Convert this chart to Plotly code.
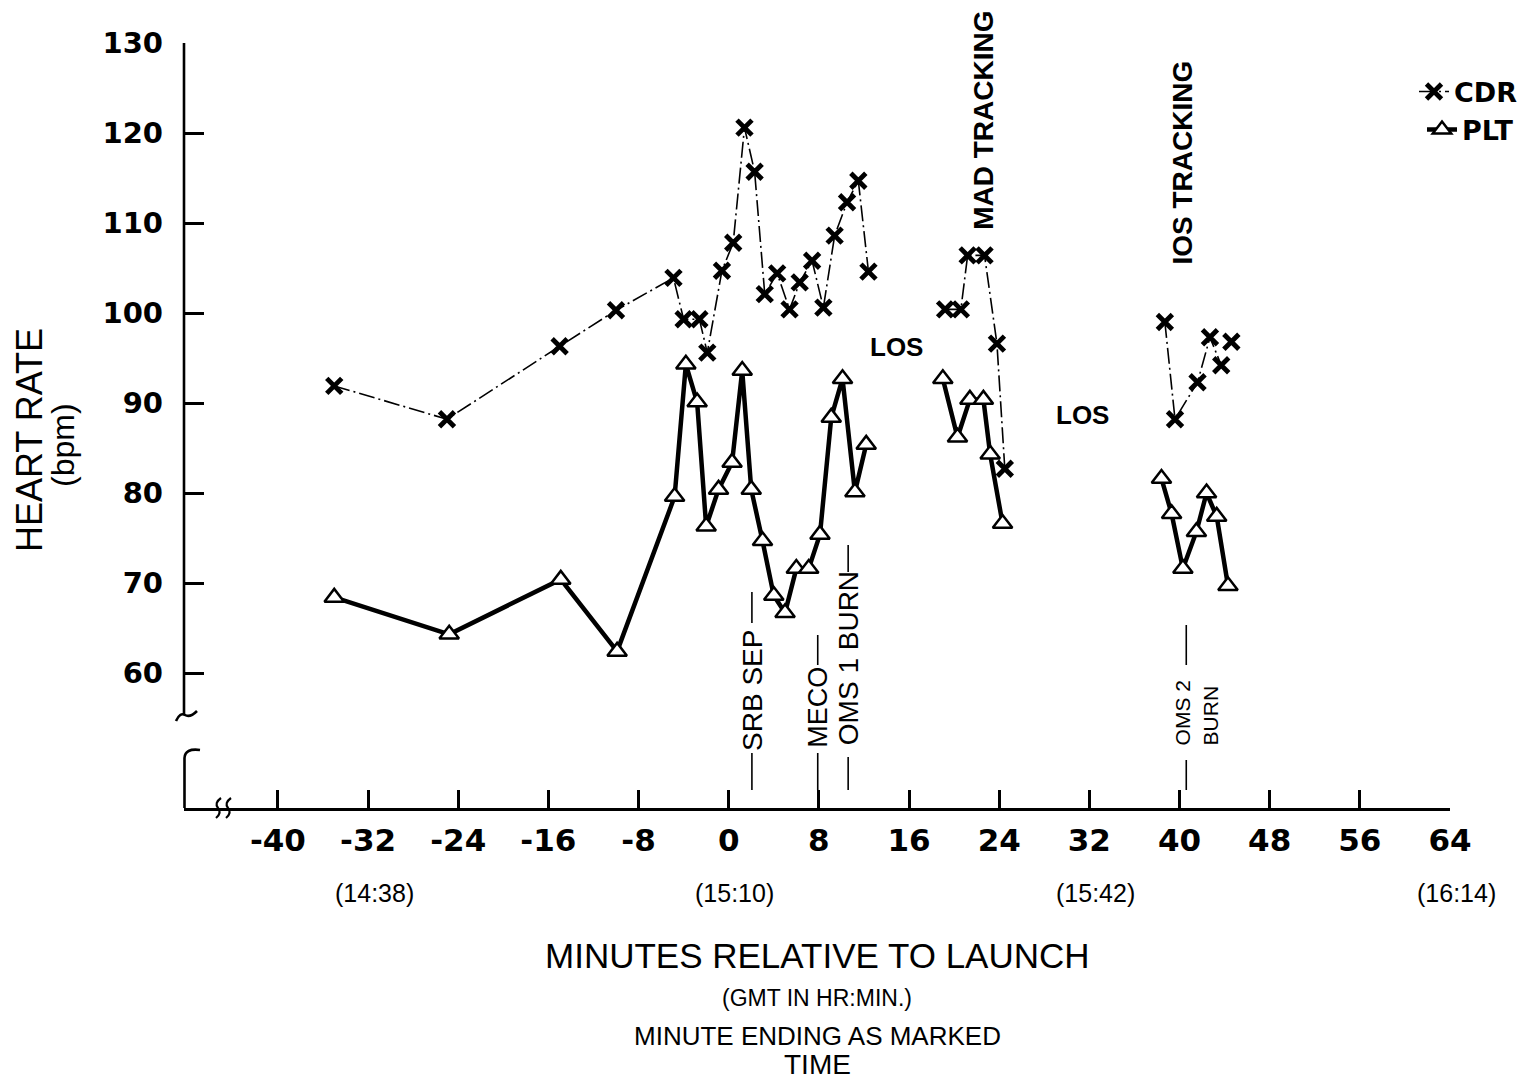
import plotly.graph_objects as go

# ---------------- data ----------------
cdr_min = [-35, -25, -15, -10, -4.9, -4.0, -2.6, -1.9, -0.6, 0.4, 1.4, 2.3, 3.2, 4.3, 5.4, 6.3,
           7.4, 8.4, 9.4, 10.5, 11.5, 12.4, None,
           19.2, 20.6, 21.2, 22.7, 23.8, 24.5, None,
           38.7, 39.6, 41.6, 42.7, 43.7, None, 44.6]
cdr_bpm = [91.9, 88.2, 96.3, 100.3, 103.9, 99.3, 99.3, 95.6, 104.7, 107.8, 120.6, 115.7, 102.1,
           104.4, 100.4, 103.4, 105.8, 100.6, 108.6, 112.3, 114.7, 104.6, None,
           100.4, 100.4, 106.4, 106.4, 96.6, 82.7, None,
           99.0, 88.2, 92.3, 97.3, 94.2, None, 96.8]

plt_min = [-35, -24.8, -14.9, -9.9, -4.8, -3.8, -2.8, -2.0, -0.9, 0.3, 1.2, 2.0, 3.0, 4.0, 5.0,
           6.0, 7.1, 8.1, 9.1, 10.1, 11.2, 12.2, None,
           19.0, 20.3, 21.4, 22.6, 23.2, 24.3, None,
           38.4, 39.3, 40.3, 41.5, 42.4, 43.3, 44.3]
plt_bpm = [68.4, 64.3, 70.4, 62.4, 79.6, 94.3, 90.1, 76.3, 80.4, 83.4, 93.6, 80.4, 74.7, 68.6,
           66.7, 71.6, 71.6, 75.4, 88.4, 92.7, 80.1, 85.4, None,
           92.7, 86.2, 90.4, 90.4, 84.3, 76.6, None,
           81.6, 77.7, 71.6, 75.7, 80.0, 77.4, 69.7]

x_tickvals = [-40, -32, -24, -16, -8, 0, 8, 16, 24, 32, 40, 48, 56, 64]
x_ticktext = ["-40", "-32", "-24", "-16", "-8", "0", "8", "16", "24", "32", "40", "48", "56", "64"]
y_tickvals = [60, 70, 80, 90, 100, 110, 120, 130]

gmt_min = [-32, 0, 32, 64]
gmt_text = ["(14:38)", "(15:10)", "(15:42)", "(16:14)"]

los_min = [14.9, 31.4]
los_bpm = [96.2, 88.7]

tracking_text = ["MAD TRACKING", "IOS TRACKING"]
tracking_min = [22.6, 40.3]
tracking_bpm = [121.4, 116.7]

event_text = ["SRB SEP", "MECO", "OMS 1 BURN", "OMS 2<br>BURN"]
event_min = [2.06, 7.9, 10.6, 41.5]

# ---------------- geometry (reference pixel frame; page has an 8px body margin) ----------------
OFF = 8
W, H = 1540 - 2 * OFF, 1090 - 2 * OFF
REF_L, REF_T = 184, 43          # plot-area corner in reference pixels
PW, PH = 1266, 765              # plot-area size in pixels
L, T = REF_L - OFF, REF_T - OFF
R, B = W - L - PW, H - T - PH
x_range = [-48.33, 64]
y_range = [45.0, 130]


def xp(px):
    return (px - REF_L) / PW


def yp(py):
    return (REF_T + PH - py) / PH


def cx(px):  # reference pixel column -> container fraction
    return (px - OFF) / W


def cy(py):  # reference pixel row -> container fraction
    return 1 - (py - OFF) / H


def pv(py):  # reference pixel row -> bpm value
    return y_range[1] - (py - REF_T) * (y_range[1] - y_range[0]) / PH


TXT = "Liberation Sans, Arial, sans-serif"
NUM = "DejaVu Sans, sans-serif"

fig = go.Figure()

fig.add_trace(go.Scatter(
    x=plt_min, y=plt_bpm, name="PLT", mode="lines+markers",
    line=dict(color="black", width=4.5),
    marker=dict(symbol="triangle-up", size=17, color="white",
                line=dict(color="black", width=2.5)),
    legend="legend2", showlegend=True,
))
fig.add_trace(go.Scatter(
    x=cdr_min, y=cdr_bpm, name="CDR", mode="lines+markers",
    line=dict(color="black", width=1.6, dash="16px,4px,2px,4px"),
    marker=dict(symbol="x-thin", size=15, color="black",
                line=dict(color="black", width=4.8)),
    legend="legend", showlegend=True,
))

annotations = []
shapes = []

# LOS labels
for xm, yv in zip(los_min, los_bpm):
    annotations.append(dict(x=xm, y=yv, xref="x", yref="y", text="LOS", showarrow=False,
                            font=dict(family=TXT, size=26, color="black", weight="bold")))

# tracking labels (vertical)
for txt, xm, yv in zip(tracking_text, tracking_min, tracking_bpm):
    annotations.append(dict(x=xm, y=yv, xref="x", yref="y", text=txt, showarrow=False,
                            textangle=-90,
                            font=dict(family=TXT, size=28, color="black", weight="bold")))

# event labels with leader lines
ev_text_center = [690, 707, 658, 713]
ev_top_line = [(592, 623), (635, 665), (545, 572), (625, 665)]
ev_bot_line = [(753, 790), (753, 790), (757, 790), (760, 790)]
ev_line_x = [2.06, 7.9, 10.6, 40.6]
ev_sizes = [28, 27, 28, 21]
for txt, xm, cyy, tl, bl, lx, fs in zip(event_text, event_min, ev_text_center, ev_top_line,
                                        ev_bot_line, ev_line_x, ev_sizes):
    annotations.append(dict(x=xm, y=pv(cyy), xref="x", yref="y", text=txt, showarrow=False,
                            textangle=-90, align="left",
                            font=dict(family=TXT, size=fs, color="black")))
    shapes.append(dict(type="line", xref="x", yref="y", x0=lx, x1=lx, y0=pv(tl[0]), y1=pv(tl[1]),
                       line=dict(color="black", width=1.6)))
    shapes.append(dict(type="line", xref="x", yref="y", x0=lx, x1=lx, y0=pv(bl[0]), y1=pv(bl[1]),
                       line=dict(color="black", width=1.6)))

# GMT labels under the tick labels
for xm, txt in zip(gmt_min, gmt_text):
    annotations.append(dict(x=xm, y=yp(893), xref="x", yref="paper", text=txt, showarrow=False,
                            xanchor="center", yanchor="middle", xshift=6,
                            font=dict(family=TXT, size=25, color="black")))

# x titles
for txt, py, fs in [("MINUTES RELATIVE TO LAUNCH", 955, 35), ("(GMT IN HR:MIN.)", 998, 23),
                    ("MINUTE ENDING AS MARKED", 1036, 26), ("TIME", 1064, 28)]:
    annotations.append(dict(x=xp(817), y=yp(py), xref="paper", yref="paper", text=txt,
                            xanchor="center", yanchor="middle",
                            showarrow=False, font=dict(family=TXT, size=fs, color="black")))

# y title
annotations.append(dict(x=xp(30), y=yp(440), xref="paper", yref="paper", text="HEART RATE",
                        showarrow=False, textangle=-90, xanchor="center", yanchor="middle",
                        font=dict(family=TXT, size=36, color="black")))
annotations.append(dict(x=xp(63), y=yp(445), xref="paper", yref="paper", text="(bpm)",
                        showarrow=False, textangle=-90, xanchor="center", yanchor="middle",
                        font=dict(family=TXT, size=32, color="black")))


# broken y axis line
def P(px, py):
    return f"{xp(px):.5f},{yp(py):.5f}"


ax = dict(color="black", width=2.6)
shapes.append(dict(type="line", xref="paper", yref="paper", x0=0, x1=0, y0=yp(REF_T), y1=yp(714),
                   line=ax))
shapes.append(dict(type="path", xref="paper", yref="paper",
                   path=f"M {P(176,721)} Q {P(180,712)} {P(185,715)} T {P(197,711)}", line=ax))
shapes.append(dict(type="path", xref="paper", yref="paper",
                   path=f"M {P(200,750)} Q {P(185,748)} {P(184.5,758)} L {P(184.5,808)}", line=ax))
# break marks on x axis
for ox in (216, 226):
    shapes.append(dict(type="path", xref="paper", yref="paper",
                       path=f"M {P(ox,818)} Q {P(ox+6,813)} {P(ox+2,808)} T {P(ox+5,798)}",
                       line=dict(color="black", width=2.2)))

legend_font = dict(family=NUM, size=27, color="black", weight="bold")
fig.update_layout(
    width=W, height=H,
    margin=dict(l=L, r=R, t=T, b=B, autoexpand=False),
    paper_bgcolor="white", plot_bgcolor="white",
    showlegend=True,
    xaxis=dict(range=x_range, showgrid=False, zeroline=False, showline=True,
               linecolor="black", linewidth=2.6, ticks="inside", ticklen=18, tickwidth=2.6,
               tickcolor="black", tickvals=x_tickvals, ticktext=x_ticktext,
               ticklabelstandoff=3, automargin=False,
               tickfont=dict(family=NUM, size=31, color="black", weight="bold")),
    yaxis=dict(range=y_range, showgrid=False, zeroline=False, showline=False,
               ticks="inside", ticklen=20, tickwidth=2.6, tickcolor="black",
               tickvals=y_tickvals, ticklabelstandoff=20, automargin=False,
               tickfont=dict(family=NUM, size=29, color="black", weight="bold")),
    legend=dict(xref="container", yref="container", x=cx(1414), y=cy(92),
                xanchor="left", yanchor="middle", visible=True,
                font=legend_font, bgcolor="rgba(0,0,0,0)", itemwidth=30),
    legend2=dict(xref="container", yref="container", x=cx(1422), y=cy(130),
                 xanchor="left", yanchor="middle", visible=True,
                 font=legend_font, bgcolor="rgba(0,0,0,0)", itemwidth=30),
    annotations=annotations,
    shapes=shapes,
)

fig.write_html("out.html")
